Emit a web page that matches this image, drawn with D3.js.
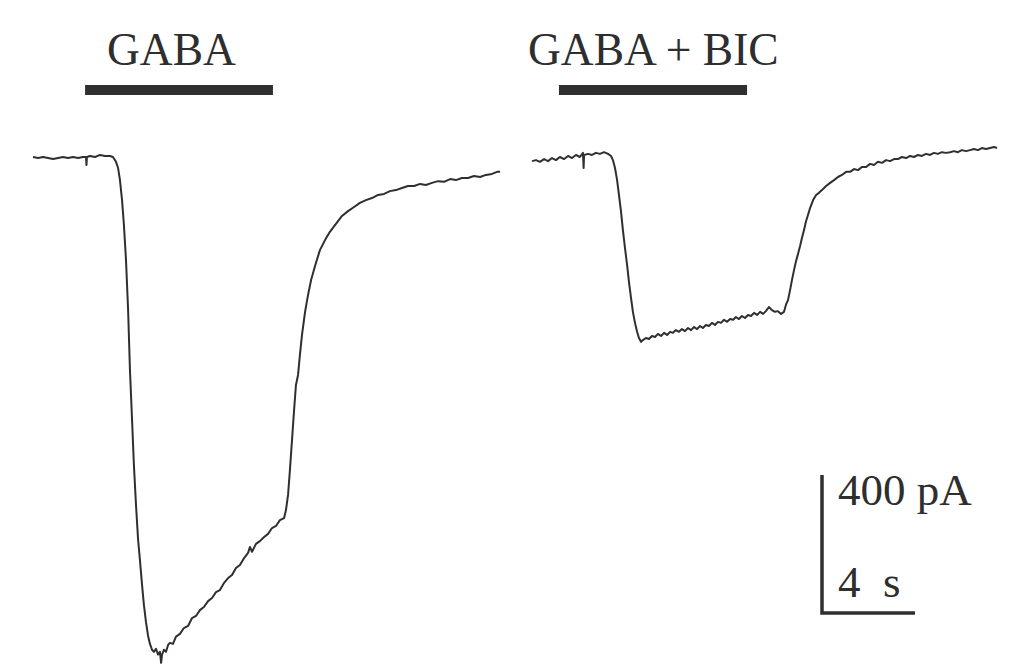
<!DOCTYPE html>
<html>
<head>
<meta charset="utf-8">
<script src="https://cdn.jsdelivr.net/npm/d3@7"></script>
<style>
  html, body { margin: 0; padding: 0; background: #fff; }
  svg { display: block; }
  text { font-family: "Liberation Serif", "Times New Roman", serif; fill: #2e2e2e; }
</style>
</head>
<body>
<svg id="chart" width="1016" height="671"></svg>
<script>
// ---- Data (time in s, current in pA) ----
const panelLabels = ["GABA", "GABA + BIC"];
// drug application intervals [start, end] in s, per panel
const applications = [[2.24, 10.32], [1.16, 9.25]];

const traceGABA = [
  [0,0],[0.22,-3],[0.43,0],[0.65,-3],[0.86,-6],[1.08,-3],[1.29,0],[1.51,-3],[1.72,0],[1.94,-3],
  [2.15,0],[2.28,0],[2.30,-23],[2.32,0],[2.45,3],[2.67,0],[2.88,6],[3.10,3],[3.31,3],[3.44,0],
  [3.57,-14],[3.66,-32],[3.74,-67],[3.83,-125],[3.91,-197],[4.00,-299],[4.09,-443],[4.17,-617],
  [4.26,-762],[4.34,-893],[4.43,-1009],[4.52,-1110],[4.60,-1169],[4.69,-1241],[4.77,-1299],
  [4.86,-1349],[4.95,-1389],[5.03,-1412],[5.12,-1429],[5.20,-1435],[5.29,-1426],[5.38,-1443],
  [5.46,-1435],[5.51,-1467],[5.55,-1443],[5.63,-1429],[5.72,-1435],[5.81,-1415],[5.89,-1409],
  [6.02,-1412],[6.15,-1391],[6.32,-1383],[6.49,-1366],[6.67,-1360],[6.84,-1337],[7.01,-1331],
  [7.18,-1314],[7.35,-1305],[7.53,-1288],[7.70,-1279],[7.87,-1262],[8.04,-1256],[8.22,-1235],
  [8.39,-1221],[8.56,-1212],[8.73,-1192],[8.90,-1183],[9.08,-1163],[9.25,-1148],[9.33,-1131],
  [9.42,-1145],[9.59,-1122],[9.76,-1114],[9.94,-1102],[10.11,-1093],[10.28,-1076],[10.45,-1070],
  [10.62,-1053],[10.80,-1047],[10.88,-1024],[10.97,-980],[11.05,-908],[11.14,-821],[11.23,-733],
  [11.31,-661],[11.40,-632],[11.48,-574],[11.57,-516],[11.70,-450],[11.83,-400],[11.96,-357],
  [12.13,-316],[12.34,-270],[12.56,-241],[12.77,-217],[13.03,-194],[13.29,-171],[13.55,-157],
  [13.81,-145],[14.06,-133],[14.32,-125],[14.58,-119],[14.84,-110],[15.10,-107],[15.35,-99],
  [15.61,-96],[15.87,-90],[16.13,-84],[16.39,-84],[16.65,-78],[16.90,-81],[17.16,-75],[17.42,-70],
  [17.68,-72],[17.94,-64],[18.19,-67],[18.45,-61],[18.71,-61],[18.97,-55],[19.23,-58],[19.48,-52],
  [19.74,-49],[19.96,-43],[20.09,-43]
];

const traceGABABIC = [
  [0,-12],[0.17,-9],[0.34,-14],[0.52,-6],[0.69,-12],[0.86,-3],[1.03,-9],[1.20,0],[1.38,-6],[1.55,3],
  [1.72,-3],[1.89,6],[2.06,0],[2.19,12],[2.22,-32],[2.24,6],[2.41,9],[2.58,6],[2.75,12],[2.92,9],
  [3.10,14],[3.27,9],[3.40,3],[3.48,-9],[3.57,-32],[3.66,-67],[3.74,-110],[3.83,-159],[3.91,-212],
  [4.00,-264],[4.09,-313],[4.17,-362],[4.26,-409],[4.34,-449],[4.43,-481],[4.52,-507],[4.60,-525],
  [4.69,-536],[4.77,-531],[4.90,-525],[5.03,-528],[5.16,-519],[5.29,-522],[5.42,-513],[5.55,-519],
  [5.68,-510],[5.81,-516],[5.94,-507],[6.06,-510],[6.19,-502],[6.32,-507],[6.45,-499],[6.58,-505],
  [6.71,-496],[6.84,-502],[6.97,-493],[7.10,-499],[7.23,-490],[7.35,-496],[7.48,-487],[7.61,-490],
  [7.74,-481],[7.87,-487],[8.00,-478],[8.13,-481],[8.26,-472],[8.39,-478],[8.52,-470],[8.65,-472],
  [8.77,-464],[8.90,-470],[9.03,-461],[9.16,-467],[9.29,-458],[9.42,-461],[9.55,-452],[9.68,-458],
  [9.81,-449],[9.94,-455],[10.06,-447],[10.19,-435],[10.32,-444],[10.45,-449],[10.58,-447],
  [10.71,-455],[10.84,-449],[10.92,-429],[11.01,-415],[11.10,-386],[11.18,-357],[11.27,-328],
  [11.35,-304],[11.44,-281],[11.53,-258],[11.61,-235],[11.70,-212],[11.78,-188],[11.87,-168],
  [11.96,-148],[12.09,-125],[12.22,-110],[12.34,-104],[12.47,-96],[12.65,-84],[12.82,-75],
  [12.99,-67],[13.16,-58],[13.33,-52],[13.51,-43],[13.68,-43],[13.85,-35],[14.02,-38],[14.19,-29],
  [14.37,-29],[14.54,-20],[14.71,-23],[14.88,-14],[15.05,-17],[15.23,-9],[15.40,-12],[15.57,-6],
  [15.74,-6],[15.91,0],[16.09,-3],[16.26,3],[16.43,0],[16.60,6],[16.77,3],[16.95,9],[17.12,6],
  [17.29,12],[17.46,9],[17.63,14],[17.81,12],[17.98,14],[18.15,17],[18.32,14],[18.49,20],[18.67,17],
  [18.84,20],[19.01,23],[19.18,20],[19.35,26],[19.53,23],[19.70,26],[19.87,29],[20.00,26]
];

const traces = [traceGABA, traceGABABIC];
const scaleBarCurrent = 400; // pA
const scaleBarTime = 4;      // s
const scaleBarLabels = ["400 pA", "4  s"];

// ---- Drawing ----
const svg = d3.select("#chart");
const ink = "#2f2f2f";

const pxPerSec = 23.25;
const xScales = [
  d3.scaleLinear().domain([0, 20]).range([33, 33 + 20 * pxPerSec]),
  d3.scaleLinear().domain([0, 20]).range([532, 532 + 20 * pxPerSec])
];
const y = d3.scaleLinear().domain([0, -1500]).range([157, 157 + 1500 / 2.9]);

const line = (xs) => d3.line().x(d => xs(d[0])).y(d => y(d[1]));

traces.forEach((tr, i) => {
  svg.append("path")
    .datum(tr)
    .attr("d", line(xScales[i]))
    .attr("fill", "none")
    .attr("stroke", ink)
    .attr("stroke-width", 2)
    .attr("stroke-linejoin", "round");
});

// application bars
applications.forEach((a, i) => {
  const xs = xScales[i];
  svg.append("rect")
    .attr("x", xs(a[0])).attr("y", 85)
    .attr("width", xs(a[1]) - xs(a[0])).attr("height", 10)
    .attr("fill", ink);
});

// labels
const labelX = [107, 528];
panelLabels.forEach((t, i) => {
  svg.append("text")
    .attr("x", labelX[i]).attr("y", 65)
    .attr("font-size", 45.5)
    .text(t);
});

// scale bar
const cornerX = 822, cornerY = 613;
const vLen = y(-scaleBarCurrent) - y(0);
const hLen = xScales[0](scaleBarTime) - xScales[0](0);
svg.append("path")
  .attr("d", `M${cornerX},${cornerY - vLen} L${cornerX},${cornerY} L${cornerX + hLen},${cornerY}`)
  .attr("fill", "none")
  .attr("stroke", ink)
  .attr("stroke-width", 3.5);

svg.append("text").attr("x", 838).attr("y", 505).attr("font-size", 45)
  .text(scaleBarLabels[0]);
svg.append("text").attr("x", 838).attr("y", 597).attr("font-size", 45)
  .attr("xml:space", "preserve").style("white-space", "pre")
  .text(scaleBarLabels[1]);
</script>
</body>
</html>
